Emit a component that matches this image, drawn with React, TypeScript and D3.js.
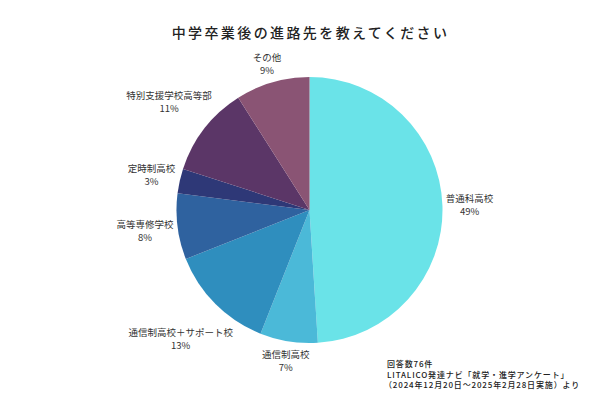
import React from "react";
import * as d3 from "d3";

const title = "中学卒業後の進路先を教えてください";
const categories = [
  "普通科高校",
  "通信制高校",
  "通信制高校＋サポート校",
  "高等専修学校",
  "定時制高校",
  "特別支援学校高等部",
  "その他",
];
const percents = [49, 7, 13, 8, 3, 11, 9];
const colors = ["#6ae3e8", "#4bb9d8", "#2f8ebe", "#2f629f", "#2e3877", "#5b3667", "#8a5474"];
const footnotes = [
  "回答数76件",
  "LITALICO発達ナビ「就学・進学アンケート」",
  "（2024年12月20日～2025年2月28日実施）より",
];

const FONT = '"Noto Sans CJK JP", "Noto Sans", sans-serif';
const LABEL_SIZE = 9.5;
const LINE_H = 13;

function measure(text: string, size: number, weight = "normal"): number {
  if (typeof document === "undefined") return text.length * size;
  const c = document.createElement("canvas");
  const ctx = c.getContext("2d");
  if (!ctx) return text.length * size;
  ctx.font = `${weight} ${size}px ${FONT}`;
  return ctx.measureText(text).width;
}

export default function App() {
  const W = 600;
  const H = 400;
  const cx = 309.5;
  const cy = 210;
  const r = 133;

  const pie = d3
    .pie<number>()
    .sort(null)
    .value((d) => d)
    .startAngle(0)
    .endAngle(2 * Math.PI);
  const arcs = pie(percents);
  const arc = d3.arc<d3.PieArcDatum<number>>().innerRadius(0).outerRadius(r);

  return (
    <svg
      width={W}
      height={H}
      style={{ position: "absolute", left: 0, top: 0, background: "#fff" }}
    >
      <rect width={W} height={H} fill="#fff" />
      <text
        x={cx + 1}
        y={32}
        textAnchor="middle"
        dominantBaseline="central"
        fontFamily={FONT}
        fontSize={14}
        fontWeight={500}
        letterSpacing={2.4}
        fill="#222"
      >
        {title}
      </text>
      <g transform={`translate(${cx},${cy})`}>
        {arcs.map((a, i) => (
          <path key={i} d={arc(a) || ""} fill={colors[i]} />
        ))}
        {arcs.map((a, i) => {
          const mid = (a.startAngle + a.endAngle) / 2;
          const s = Math.sin(mid);
          const c = -Math.cos(mid);
          const w1 = measure(categories[i], LABEL_SIZE);
          const w2 = measure(`${percents[i]}%`, LABEL_SIZE);
          const hw = Math.max(w1, w2) / 2;
          const hh = 13;
          const dist = r + 3 + hw * Math.abs(s) + hh * Math.abs(c);
          const x = s * dist;
          const y = c * dist;
          return (
            <g key={`l${i}`} fontFamily={FONT} fontSize={LABEL_SIZE} fill="#333" textAnchor="middle">
              <text x={x} y={y - LINE_H / 2} dominantBaseline="central">
                {categories[i]}
              </text>
              <text x={x} y={y + LINE_H / 2} dominantBaseline="central">
                {`${percents[i]}%`}
              </text>
            </g>
          );
        })}
      </g>
      <g fontFamily={FONT} fontSize={8} fontWeight={500} letterSpacing={0.85} fill="#222">
        {footnotes.map((t, i) => (
          <text key={i} x={i === 2 ? 384 : 387} y={363.5 + i * 10.6} dominantBaseline="central">
            {t}
          </text>
        ))}
      </g>
    </svg>
  );
}
